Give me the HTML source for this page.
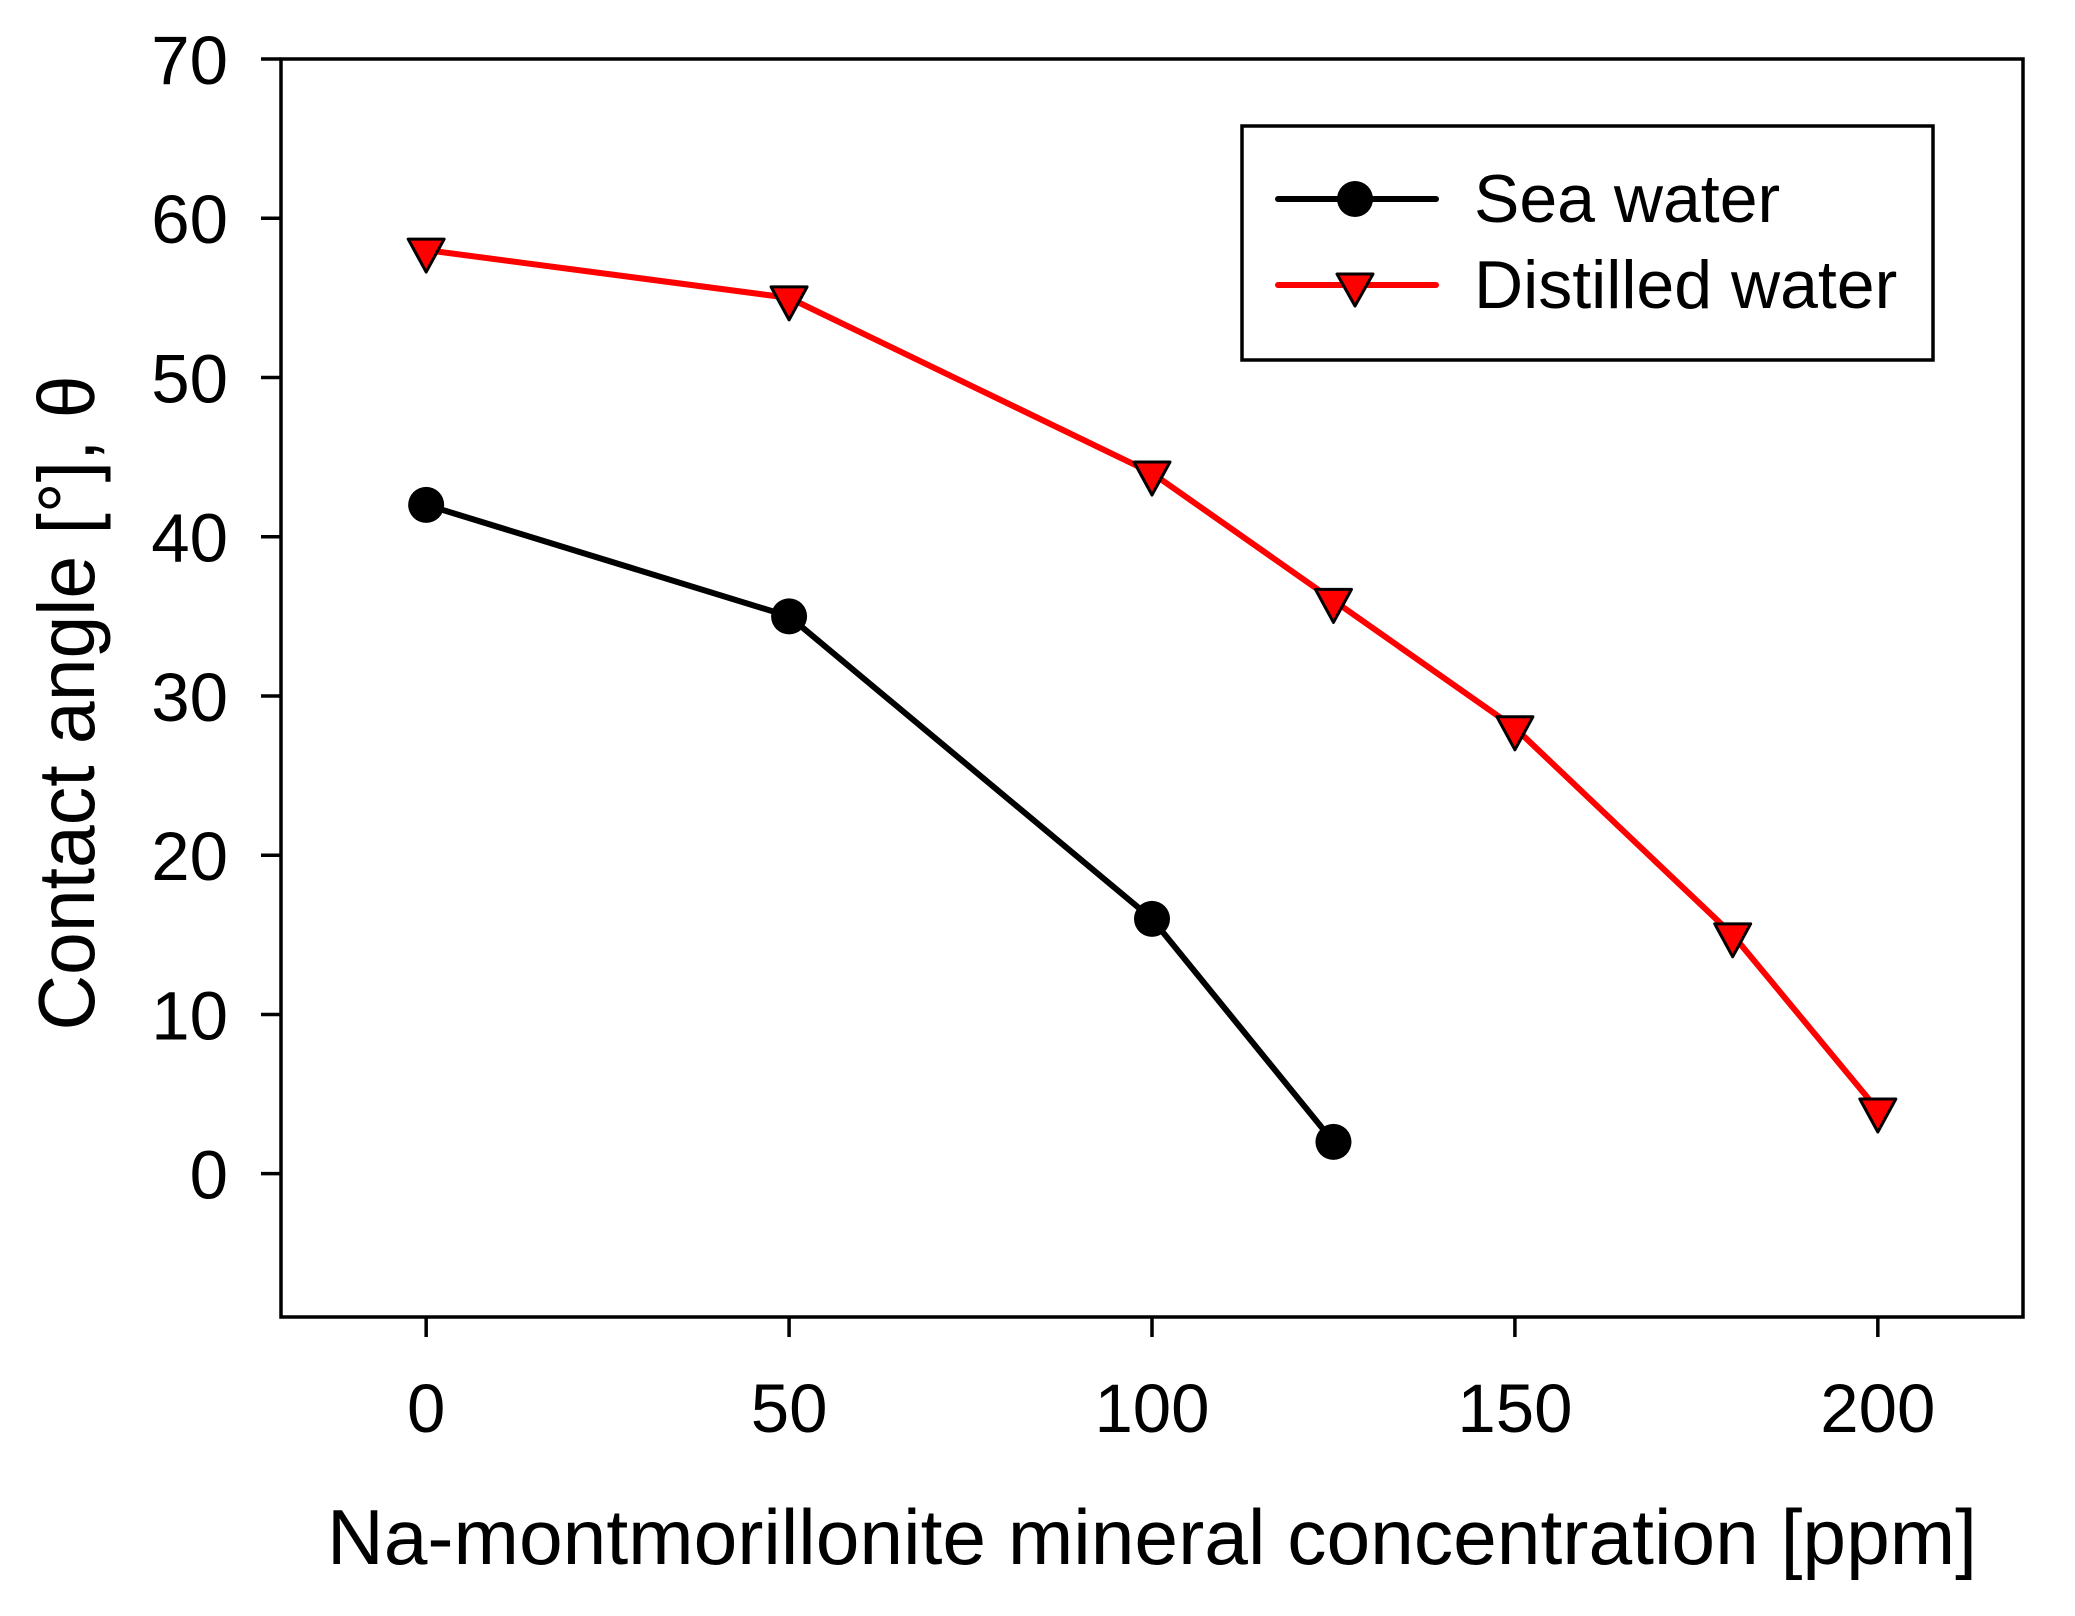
<!DOCTYPE html>
<html><head><meta charset="utf-8"><style>
html,body{margin:0;padding:0;background:#fff}
svg{display:block;font-family:"Liberation Sans",Arial,sans-serif}
</style></head><body>
<svg id="chart" width="2075" height="1616" viewBox="0 0 2075 1616" xmlns="http://www.w3.org/2000/svg">
<rect width="2075" height="1616" fill="#fff"/>
<g id="plot"></g>
<text x="1152" y="1564" font-size="78" text-anchor="middle" textLength="1650" lengthAdjust="spacingAndGlyphs">Na-montmorillonite mineral concentration [ppm]</text>
<text transform="translate(94,703) rotate(-90)" font-size="80" text-anchor="middle" textLength="655" lengthAdjust="spacingAndGlyphs">Contact angle [°], θ</text>
<g>
<rect x="1242" y="126" width="691" height="234" fill="#fff" stroke="#000" stroke-width="3.5"/>
<g>
<line x1="1278" y1="199" x2="1436" y2="199" stroke="#000" stroke-width="6" stroke-linecap="round"/>
<ellipse cx="1355" cy="199" rx="18" ry="18" fill="#000"/>
<text x="1474" y="222" font-size="68">Sea water</text>
</g>
<g>
<line x1="1278" y1="285" x2="1436" y2="285" stroke="#f00" stroke-width="6" stroke-linecap="round"/>
<polygon points="1337,274 1373,274 1355,306" fill="#f00" stroke="#000" stroke-width="3" stroke-linejoin="round"/>
<text x="1474" y="308" font-size="68">Distilled water</text>
</g>
</g>
</svg>
<script>
const xTicks = [0, 50, 100, 150, 200];
const yTicks = [0, 10, 20, 30, 40, 50, 60, 70];
const seaX = [0, 50, 100, 125];
const seaY = [42, 35, 16, 2];
const distX = [0, 50, 100, 125, 150, 180, 200];
const distY = [58, 55, 44, 36, 28, 15, 4];

const L = 281, R = 2023, T = 59, B = 1317;
const xMin = -20, xMax = 220, yMin = -9, yMax = 70;
function sx(v){ return L + (v - xMin) / (xMax - xMin) * (R - L); }
function sy(v){ return B - (v - yMin) / (yMax - yMin) * (B - T); }
const NS = 'http://www.w3.org/2000/svg';
const g = document.getElementById('plot');
function mk(tag, attrs, parent){
  const e = document.createElementNS(NS, tag);
  for (const k in attrs) e.setAttribute(k, attrs[k]);
  (parent || g).appendChild(e);
  return e;
}
const frame = mk('rect', {x:L, y:T, width:R-L, height:B-T, fill:'none', stroke:'#000', 'stroke-width':3.5});



yTicks.forEach(v => {
  const y = sy(v);
  const t = mk('line', {x1:L-20, y1:y, x2:L, y2:y, stroke:'#000', 'stroke-width':3.5});
  
  
  const lb = mk('text', {x:228, y:y+25, 'font-size':69, 'text-anchor':'end'});
  lb.textContent = v;
  
  
});
xTicks.forEach(v => {
  const x = sx(v);
  const t = mk('line', {x1:x, y1:B, x2:x, y2:B+20, stroke:'#000', 'stroke-width':3.5});
  
  
  const lb = mk('text', {x:x, y:1432, 'font-size':69, 'text-anchor':'middle'});
  lb.textContent = v;
  
  
});

const pts = (xs, ys) => xs.map((x, i) => sx(x) + ',' + sy(ys[i])).join(' ');
const dl = mk('polyline', {points:pts(distX, distY), fill:'none', stroke:'#f00', 'stroke-width':6, 'stroke-linejoin':'round'});


const sl = mk('polyline', {points:pts(seaX, seaY), fill:'none', stroke:'#000', 'stroke-width':6, 'stroke-linejoin':'round'});



distX.forEach((xv, i) => {
  const x = sx(xv), y = sy(distY[i]);
  const p = mk('polygon', {points:(x-18)+','+(y-11)+' '+(x+18)+','+(y-11)+' '+x+','+(y+22), fill:'#f00', stroke:'#000', 'stroke-width':3, 'stroke-linejoin':'round'});
  
  
});
seaX.forEach((xv, i) => {
  const c = mk('ellipse', {cx:sx(xv), cy:sy(seaY[i]), rx:18, ry:18, fill:'#000'});
  
  
});
</script>
</body></html>
